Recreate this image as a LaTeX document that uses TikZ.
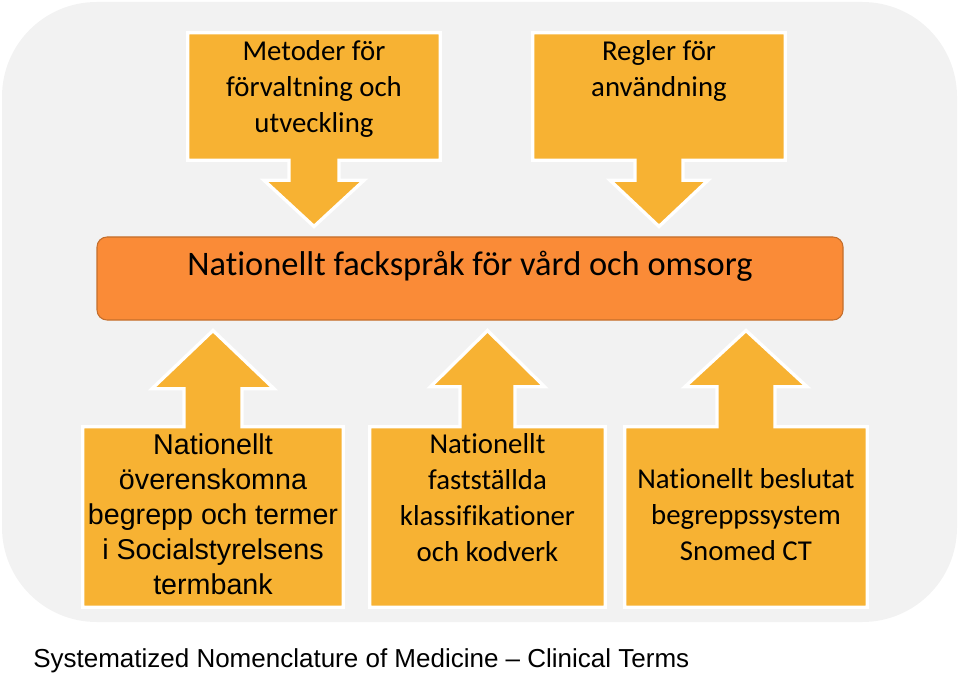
\documentclass[tikz,border=0pt]{standalone}
\usepackage{fontspec}
\setmainfont[Ligatures=NoCommon]{Carlito}
\newfontfamily\arialfont{Liberation Sans}
\usetikzlibrary{
        backgrounds,
        calc,
        positioning
    }
\definecolor{panelgrey}{HTML}{F2F2F2}
\definecolor{calyellow}{HTML}{F7B233}
\definecolor{barorange}{HTML}{FA8B37}
\definecolor{baredge}{HTML}{C46E2C}
\tikzset{callout/.style={fill=calyellow,draw=white,line width=2.5pt,line join=miter}}
\tikzset{calbox/.style={inner sep=0pt,minimum height=95.25pt,minimum width=#1}}
\tikzset{lowbox/.style={inner sep=0pt,minimum height=135pt,minimum width=#1}}

\begin{document}
\begin{tikzpicture}[x=0.75pt,y=-0.75pt]
                    \tikzset{caltext/.style={align=center,inner sep=0pt,font=\fontsize{21.6pt}{27pt}\selectfont}}
                    \tikzset{arialtext/.style={align=center,inner sep=0pt,font=\arialfont\fontsize{21.5pt}{26.25pt}\selectfont}}
                    \useasboundingbox (0,0) rectangle (960,677);

                        % boxes
                        \node[calbox=189pt]    (metod)   at (314,96.5)  {};
                        \node[calbox=189pt]    (regler)  at (659,96.5)  {};
                        \node[lowbox=195pt]    (begrepp) at (213,517)   {};
                        \node[lowbox=176.25pt] (klass)   at (487.5,517) {};
                        \node[lowbox=181.5pt]  (snomed)  at (746,517)   {};
                        \node[fill=barorange,draw=baredge,line width=0.8pt,rounded corners=7.5pt,
                              minimum width=559.5pt,minimum height=62.25pt] (fack) at (470,278.5) {};

                        % texts
                        \node[caltext] (metodtxt)   at (314,89)  {Metoder för\\förvaltning och\\utveckling};
                        \node[caltext] (reglertxt)  at (659,71)  {Regler för\\användning};
                        \node[caltext,font=\fontsize{25.8pt}{30pt}\selectfont] (facktxt) at (470,266) {Nationellt fackspråk för vård och omsorg};
                        \node[arialtext] (begrepptxt) at (213,514) {Nationellt\\överenskomna\\begrepp och termer\\i Socialstyrelsens\\termbank};
                        \node[caltext] (klasstxt)   at (487.5,498) {Nationellt\\fastställda\\klassifikationer\\och kodverk};
                        \node[caltext] (snomedtxt)  at (746,515) {Nationellt beslutat\\begreppssystem\\Snomed CT};
                        \node[arialtext,font=\arialfont\fontsize{19.5pt}{24pt}\selectfont,anchor=west] (fullname) at (33,661) {Systematized Nomenclature of Medicine – Clinical Terms};

                    \begin{scope}[on background layer]
                        \fill[panelgrey,rounded corners=71pt] (2,2) rectangle (957,622);
                        % down arrows into the bar
                        \path[callout] (metod.north west) -- (metod.north east) -- (metod.south east)
                            -- ($(metod.south)+(25,0)$) -- ($(metod.south)+(25,20)$) -- ($(metod.south)+(50,20)$)
                            -- ($(metod.south |- fack.north)+(0,-10)$)
                            -- ($(metod.south)+(-50,20)$) -- ($(metod.south)+(-25,20)$) -- ($(metod.south)+(-25,0)$)
                            -- (metod.south west) -- cycle;
                        \path[callout] (regler.north west) -- (regler.north east) -- (regler.south east)
                            -- ($(regler.south)+(24,0)$) -- ($(regler.south)+(24,20)$) -- ($(regler.south)+(49,20)$)
                            -- ($(regler.south |- fack.north)+(0,-10)$)
                            -- ($(regler.south)+(-49,20)$) -- ($(regler.south)+(-24,20)$) -- ($(regler.south)+(-24,0)$)
                            -- (regler.south west) -- cycle;
                        % up arrows into the bar
                        \path[callout] (begrepp.south west) -- (begrepp.south east) -- (begrepp.north east)
                            -- ($(begrepp.north)+(29,0)$) -- ($(begrepp.north)+(29,-38)$) -- ($(begrepp.north)+(61,-38)$)
                            -- ($(begrepp.north |- fack.south)+(0,10)$)
                            -- ($(begrepp.north)+(-61,-38)$) -- ($(begrepp.north)+(-29,-38)$) -- ($(begrepp.north)+(-29,0)$)
                            -- (begrepp.north west) -- cycle;
                        \path[callout] (klass.south west) -- (klass.south east) -- (klass.north east)
                            -- ($(klass.north)+(27.5,0)$) -- ($(klass.north)+(27.5,-40)$) -- ($(klass.north)+(57,-40)$)
                            -- ($(klass.north |- fack.south)+(0,10)$)
                            -- ($(klass.north)+(-57,-40)$) -- ($(klass.north)+(-27.5,-40)$) -- ($(klass.north)+(-27.5,0)$)
                            -- (klass.north west) -- cycle;
                        \path[callout] (snomed.south west) -- (snomed.south east) -- (snomed.north east)
                            -- ($(snomed.north)+(29,0)$) -- ($(snomed.north)+(29,-40)$) -- ($(snomed.north)+(61,-40)$)
                            -- ($(snomed.north |- fack.south)+(0,10)$)
                            -- ($(snomed.north)+(-61,-40)$) -- ($(snomed.north)+(-29,-40)$) -- ($(snomed.north)+(-29,0)$)
                            -- (snomed.north west) -- cycle;
                    \end{scope}
            \end{tikzpicture}
\end{document}
